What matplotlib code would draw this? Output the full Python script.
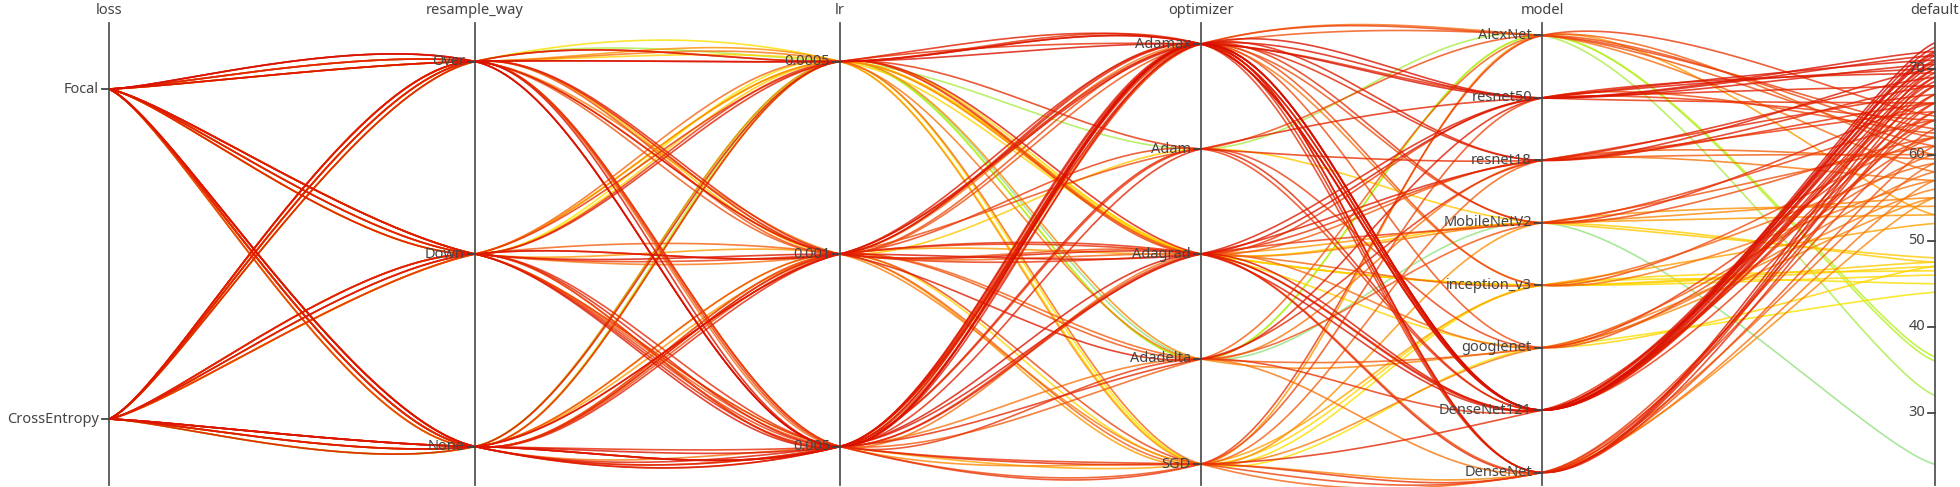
import numpy as np
import matplotlib.pyplot as plt
from matplotlib.colors import LinearSegmentedColormap, Normalize

# category labels, top to bottom on each axis
loss_levels = ['Focal', 'CrossEntropy']
resample_levels = ['Over', 'Down', 'None']
lr_levels = ['0.0005', '0.001', '0.005']
optimizer_levels = ['Adamax', 'Adam', 'Adagrad', 'Adadelta', 'SGD']
model_levels = ['AlexNet', 'resnet50', 'resnet18', 'MobileNetV2', 'inception_v3',
                'googlenet', 'DenseNet121', 'DenseNet']

# one entry per run (index into the level lists above)
loss = [1, 0, 1, 0, 1, 0, 1, 0, 1, 0,
        0, 1, 0, 1, 0, 1, 0, 1, 0, 1,
        0, 1, 0, 1, 0, 1, 0, 1, 0,
        1, 0, 1, 0, 1, 0, 1, 0, 1, 1,
        0, 1, 0, 1, 0, 1, 0, 1, 0,
        1, 0, 1, 0, 1, 0, 1, 0,
        0, 1, 0, 1, 0, 1, 0, 1, 0, 1, 0, 1, 0, 1, 0, 1, 0,
        1, 0, 1, 0, 1, 0, 1, 0, 1, 0, 1]
resample_way = [2, 2, 0, 1, 2, 0, 1, 2, 0, 1,
                0, 2, 1, 2, 2, 0, 1, 1, 2, 0,
                0, 1, 2, 2, 1, 0, 2, 1, 0,
                2, 1, 0, 2, 1, 0, 2, 1, 0, 2,
                2, 0, 1, 1, 0, 2, 2, 0, 1,
                1, 2, 0, 0, 2, 1, 1, 2,
                0, 0, 2, 2, 1, 1, 0, 2, 1, 0, 2, 1, 2, 0, 1, 2, 0,
                2, 0, 1, 2, 0, 1, 2, 0, 1, 2, 0]
lr = [0, 0, 0, 1, 2, 1, 2, 1, 2, 2,
      0, 2, 1, 1, 2, 1, 2, 0, 0, 2,
      2, 2, 1, 2, 0, 1, 0, 1, 0,
      2, 2, 1, 1, 0, 0, 1, 0, 1, 0,
      2, 1, 2, 0, 0, 1, 0, 0, 1,
      2, 1, 2, 1, 0, 0, 0, 2,
      2, 2, 2, 2, 2, 1, 1, 1, 0, 0, 2, 2, 1, 2, 1, 0, 0,
      2, 2, 1, 1, 0, 2, 1, 1, 0, 2, 2]
optimizer = [3, 3, 1, 4, 0, 0, 0, 1, 4, 3,
             0, 0, 2, 0, 2, 3, 1, 0, 2, 4,
             0, 2, 0, 3, 1, 2, 2, 4, 3,
             0, 2, 0, 3, 2, 4, 2, 2, 1, 3,
             0, 2, 4, 2, 2, 4, 2, 4, 0,
             0, 3, 2, 4, 3, 4, 2, 1,
             0, 0, 0, 2, 0, 0, 2, 0, 0, 0, 1, 4, 2, 3, 1, 2, 0,
             0, 0, 0, 2, 0, 4, 4, 2, 4, 3, 4]
model = [0, 0, 0, 0, 0, 0, 0, 0, 0, 0,
         1, 1, 1, 1, 1, 1, 1, 1, 1, 1,
         2, 2, 2, 2, 2, 2, 2, 2, 2,
         3, 3, 3, 3, 3, 3, 3, 3, 3, 3,
         4, 4, 4, 4, 4, 4, 4, 4, 4,
         5, 5, 5, 5, 5, 5, 5, 5,
         6, 6, 6, 6, 6, 6, 6, 6, 6, 6, 6, 6, 6, 6, 6, 6, 6,
         7, 7, 7, 7, 7, 7, 7, 7, 7, 7, 7]
default = [36.0, 36.5, 32.0, 53.0, 58.0, 61.0, 63.0, 62.0, 64.5, 60.0,
           72.0, 71.5, 71.0, 70.5, 70.0, 69.5, 68.0, 66.0, 64.0, 62.5,
           70.0, 69.0, 68.0, 67.0, 66.0, 65.0, 60.0, 59.5, 57.0,
           66.0, 64.0, 62.0, 61.0, 55.0, 54.0, 53.0, 47.5, 48.0, 24.0,
           62.0, 59.0, 52.0, 47.5, 47.0, 46.5, 46.0, 45.0, 57.0,
           62.0, 60.0, 58.0, 56.0, 55.0, 44.0, 47.0, 64.0,
           73.0, 72.5, 72.0, 71.5, 71.0, 70.5, 70.0, 69.5, 69.0, 68.5, 68.0, 67.0,
           66.0, 65.0, 64.0, 70.8, 71.8,
           70.0, 69.0, 68.0, 67.0, 66.0, 65.0, 63.0, 61.0, 59.0, 57.0, 55.0]

default_ticks = [30, 40, 50, 60, 70]
default_range = (21.6, 75.3)

titles = ['loss', 'resample_way', 'lr', 'optimizer', 'model', 'default']
axis_x = [0, 366, 731, 1092, 1433, 1826]   # horizontal placement of the axes
PAD = 0.2


def cat_pos(idx, n):
    # point scale with padding, first level at the top
    return 1 - (PAD + np.asarray(idx)) / (n - 1 + 2 * PAD)


def num_pos(v):
    lo, hi = default_range
    return (np.asarray(v) - lo) / (hi - lo)


def smooth_path(px, py, steps=60, ky=0.45):
    # Catmull-Rom style, vertical tangents damped so curves stay close to straight
    P = np.column_stack([px, py])
    P = np.vstack([P[0], P, P[-1]])
    t = np.linspace(0, 1, steps)[:, None]
    h00 = 2 * t ** 3 - 3 * t ** 2 + 1
    h10 = t ** 3 - 2 * t ** 2 + t
    h01 = -2 * t ** 3 + 3 * t ** 2
    h11 = t ** 3 - t ** 2
    scale = np.array([1.0, ky])
    out = []
    for i in range(1, len(P) - 2):
        p0, p1, p2, p3 = P[i - 1], P[i], P[i + 1], P[i + 2]
        m1 = (p2 - p0) / 2 * scale
        m2 = (p3 - p1) / 2 * scale
        out.append(h00 * p1 + h10 * m1 + h01 * p2 + h11 * m2)
    seg = np.vstack(out)
    return seg[:, 0], seg[:, 1]


cols = np.column_stack([
    cat_pos(loss, len(loss_levels)),
    cat_pos(resample_way, len(resample_levels)),
    cat_pos(lr, len(lr_levels)),
    cat_pos(optimizer, len(optimizer_levels)),
    cat_pos(model, len(model_levels)),
    num_pos(default),
])

cmap = LinearSegmentedColormap.from_list('hp', [
    (0.00, '#8fe08f'), (0.15, '#a6ea5c'), (0.27, '#b4f020'), (0.38, '#f2ee00'),
    (0.46, '#ffd800'), (0.57, '#ffa000'), (0.68, '#f76d12'), (0.79, '#ec3c0c'),
    (0.90, '#e01c00'), (1.00, '#d40800')])
norm = Normalize(22, 75)

fig = plt.figure(figsize=(19.6, 4.87), dpi=100)
ax = fig.add_axes([109 / 1960, 2 / 487, 1826 / 1960, 462 / 487])
ax.set_xlim(axis_x[0], axis_x[-1])
ax.set_ylim(0, 1)
ax.axis('off')

# build the curves in pixel space
sy = 462.0
for i in np.argsort(default):
    cx, cy = smooth_path(np.array(axis_x, float), cols[i] * sy)
    ax.plot(cx, cy / sy, color=cmap(norm(default[i])), lw=1.2, alpha=0.8,
            zorder=2, solid_capstyle='round', clip_on=False)

txt = dict(fontsize=10.5, color='#444444', family='Noto Sans')
level_sets = [loss_levels, resample_levels, lr_levels, optimizer_levels, model_levels]
for k, x in enumerate(axis_x):
    ax.plot([x, x], [0, 1], color='#555555', lw=1.3, zorder=4, clip_on=False)
    ax.text(x, 1.028, titles[k], ha='center', va='center', zorder=5, **txt)
    if k < 5:
        levels = level_sets[k]
        pos = cat_pos(np.arange(len(levels)), len(levels))
        labels = levels
    else:
        pos = num_pos(default_ticks)
        labels = [str(t) for t in default_ticks]
    for p, lab in zip(pos, labels):
        ax.plot([x - 7, x], [p, p], color='#444444', lw=1.3, zorder=4, clip_on=False)
        ax.text(x - 10, p, lab, ha='right', va='center', zorder=3, **txt)

fig.savefig('out.png', dpi=100)
